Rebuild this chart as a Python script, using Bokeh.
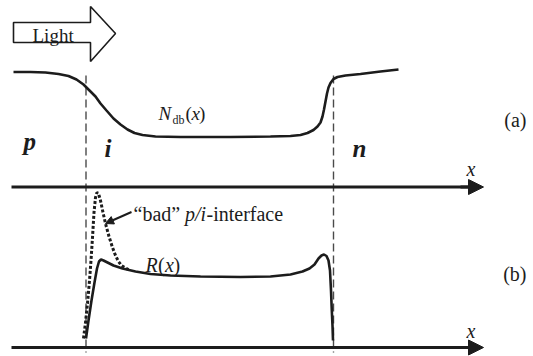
from bokeh.plotting import figure
from bokeh.models import Range1d, Arrow, NormalHead
from bokeh.core.properties import value
from bokeh.embed import file_html
from bokeh.resources import INLINE

# Coordinates are in drawing units (x to the right, y downward).

# (a) doping profile N_db(x)
ndb_x = [13, 30, 45, 58, 68, 76, 83, 89, 95, 100, 106, 113, 120, 127, 134, 142, 155,
         180, 230, 270, 290, 300, 307, 313, 317, 320, 322, 323.5, 325, 326.5, 328,
         330, 333, 337, 345, 360, 380, 398]
ndb_y = [71.5, 71.5, 72, 73.5, 75.5, 79, 84, 90, 96, 103, 110, 118, 124, 129, 132.5,
         134.5, 136, 136.5, 136.5, 136, 135.5, 134.5, 132.5, 129.5, 126, 122, 116, 109,
         101, 93, 87, 82.5, 78.5, 76.5, 75, 73.5, 71, 69]

# (b) recombination profile R(x)
r_x = [85.5, 88, 91, 94, 96.5, 98.5, 100.5, 103, 107, 113, 122, 135, 150, 170, 200,
       240, 270, 290, 302, 309, 314, 318, 321, 323.5, 326, 328, 329.5, 330.5, 331.3,
       332, 332.5]
r_y = [338, 320, 300, 282, 268, 261, 259, 260, 262, 265, 268, 271, 273.5, 275, 276,
       276.5, 276, 274, 271, 268, 264, 258, 255, 254, 255.5, 260, 270, 290, 310, 325,
       340]

# R(x) with a "bad" p/i interface
bad_x = [83, 85, 87, 89, 90.5, 92, 93.5, 95, 96.5, 98, 100, 102.5, 105, 108.5, 112,
         115, 118, 121, 124, 128]
bad_y = [338, 322, 303, 280, 260, 237, 212, 197, 192, 193, 200, 212, 223, 236, 247,
         255, 261, 265, 267, 269]

# junction boundaries (p/i and i/n)
boundary_x = [85.5, 333]
# baseline position of the two x axes
axis_y = [186.5, 347]

# "Light" arrow outline
light_x = [13, 90, 90, 115, 90, 90, 13]
light_y = [22, 22, 6, 33, 61, 42, 42]

W, H = 533, 356
p = figure(width=W, height=H, x_range=Range1d(0, W), y_range=Range1d(H, 0),
           output_backend="svg", toolbar_location=None, min_border=0,
           background_fill_color="white", border_fill_color="white")
p.axis.visible = False
p.grid.visible = False
p.outline_line_color = None

SERIF = value("'Liberation Serif', 'Times New Roman', serif")
INK = "#1c1c1c"
DY = -4  # common baseline adjustment for all labels

# light arrow
p.patch(light_x, light_y, fill_color="white", line_color=INK, line_width=1.6)
p.text([32], [39 + DY], text=["Light"], text_font=SERIF, text_font_size="19px",
       text_color=INK, text_baseline="alphabetic")

# boundary dashed lines
for bx in boundary_x:
    p.line([bx, bx], [75, 352], line_color="#4a4a4a", line_width=1.4, line_dash="8 4")

# x axes with arrows
for ay in axis_y:
    p.line([11, 470], [ay, ay], line_color=INK, line_width=3)
    p.add_layout(Arrow(end=NormalHead(size=15, fill_color=INK, line_color=INK),
                       line_color=INK, line_width=3,
                       x_start=460, y_start=ay, x_end=483, y_end=ay))
p.text([466, 466], [172 + DY, 334 + DY], text=["x", "x"], text_font=SERIF,
       text_font_size="20px", text_font_style="italic", text_color=INK,
       text_baseline="alphabetic")

# curves
p.line(ndb_x, ndb_y, line_color=INK, line_width=2.6)
p.line(r_x, r_y, line_color=INK, line_width=2.6)
p.line(bad_x, bad_y, line_color=INK, line_width=3, line_dash="3 2", line_cap="butt")

# region labels
p.text([23], [145 + DY], text=["p"], text_font=SERIF, text_font_size="25px",
       text_font_style="bold italic", text_color=INK, text_baseline="alphabetic")
p.text([104], [152 + DY], text=["i"], text_font=SERIF, text_font_size="25px",
       text_font_style="bold italic", text_color=INK, text_baseline="alphabetic")
p.text([352], [152 + DY], text=["n"], text_font=SERIF, text_font_size="25px",
       text_font_style="bold italic", text_color=INK, text_baseline="alphabetic")

# N_db(x) label
p.text([158], [117 + DY], text=["N"], text_font=SERIF, text_font_size="19px",
       text_font_style="italic", text_color=INK, text_baseline="alphabetic")
p.text([172], [123 + DY], text=["db"], text_font=SERIF, text_font_size="12px",
       text_color=INK, text_baseline="alphabetic")
p.text([185, 198.5], [117 + DY, 117 + DY], text=["(", ")"], text_font=SERIF,
       text_font_size="19px", text_color=INK, text_baseline="alphabetic")
p.text([191], [117 + DY], text=["x"], text_font=SERIF, text_font_size="19px",
       text_font_style="italic", text_color=INK, text_baseline="alphabetic")

# R(x) label
p.text([145], [268 + DY], text=["R"], text_font=SERIF, text_font_size="20px",
       text_font_style="italic", text_color=INK, text_baseline="alphabetic")
p.text([157.5, 173], [268 + DY, 268 + DY], text=["(", ")"], text_font=SERIF,
       text_font_size="20px", text_color=INK, text_baseline="alphabetic")
p.text([164.5], [268 + DY], text=["x"], text_font=SERIF, text_font_size="20px",
       text_font_style="italic", text_color=INK, text_baseline="alphabetic")

# "bad" p/i-interface annotation
p.text([133], [217 + DY], text=["\u201cbad\u201d "], text_font=SERIF,
       text_font_size="20px", text_color=INK, text_baseline="alphabetic")
p.text([184.5], [217 + DY], text=["p/i"], text_font=SERIF, text_font_size="20px",
       text_font_style="italic", text_color=INK, text_baseline="alphabetic")
p.text([206], [217 + DY], text=["-interface"], text_font=SERIF, text_font_size="20px",
       text_color=INK, text_baseline="alphabetic")
p.add_layout(Arrow(end=NormalHead(size=8, fill_color=INK, line_color=INK),
                   line_color=INK, line_width=2,
                   x_start=131, y_start=211.5, x_end=105, y_end=223))

# panel tags
p.text([526, 526], [123 + DY, 277 + DY], text=["(a)", "(b)"], text_font=SERIF,
       text_font_size="20px", text_color=INK, text_align="right",
       text_baseline="alphabetic")

open("out.html", "w").write(file_html(p, INLINE))
